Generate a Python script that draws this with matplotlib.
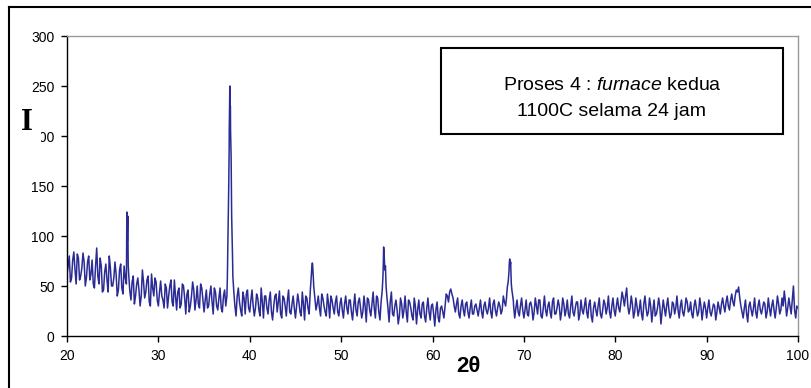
import numpy as np
import matplotlib
matplotlib.use("Agg")
import matplotlib.pyplot as plt
from matplotlib.patches import Rectangle
from matplotlib.lines import Line2D

plt.rcParams['font.family'] = ['Liberation Sans', 'DejaVu Sans']
plt.rcParams['mathtext.fontset'] = 'custom'
plt.rcParams['mathtext.rm'] = 'Liberation Sans'
plt.rcParams['mathtext.it'] = 'Liberation Sans:italic'

# background scan, 2theta = 20 .. 100 step 0.25
theta_start = 20.0
theta_step = 0.25
background = [
    62, 80, 58, 84, 52, 78, 60, 83, 50, 74, 56, 76, 48, 88, 52, 70, 46, 72, 44, 68,
    50, 74, 40, 66, 48, 70, 52, 62, 36, 60, 40, 58, 30, 66, 38, 56, 34, 62, 40, 54,
    30, 55, 36, 52, 28, 50, 34, 56, 26, 48, 32, 50, 22, 46, 30, 54, 26, 50, 28, 48,
    24, 46, 30, 50, 22, 44, 26, 48, 24, 46, 40, 190, 140, 45, 20, 48, 26, 44, 22, 46,
    24, 46, 20, 42, 26, 48, 18, 40, 22, 44, 16, 40, 24, 45, 18, 38, 20, 46, 22, 40,
    18, 42, 24, 44, 16, 38, 22, 62, 50, 26, 40, 20, 38, 24, 42, 18, 36, 22, 40, 20,
    38, 18, 40, 22, 36, 16, 42, 20, 38, 18, 40, 14, 36, 20, 44, 18, 38, 16, 46, 72,
    40, 14, 44, 20, 36, 12, 38, 18, 40, 14, 34, 20, 38, 12, 36, 18, 34, 14, 38, 16,
    32, 10, 34, 14, 30, 18, 42, 34, 47, 38, 24, 38, 18, 36, 20, 34, 18, 36, 22, 32,
    20, 36, 18, 34, 22, 38, 18, 36, 20, 34, 22, 40, 30, 52, 70, 42, 18, 36, 20, 38,
    18, 36, 20, 34, 16, 38, 22, 36, 18, 40, 20, 34, 18, 38, 22, 36, 16, 38, 20, 36,
    18, 40, 20, 34, 16, 36, 22, 38, 18, 36, 14, 34, 20, 38, 18, 36, 22, 40, 18, 38,
    20, 38, 24, 44, 30, 48, 22, 40, 18, 38, 20, 36, 16, 40, 20, 38, 14, 36, 22, 38,
    12, 36, 20, 38, 18, 34, 22, 40, 18, 36, 20, 38, 24, 34, 18, 36, 20, 38, 16, 34,
    18, 36, 20, 32, 16, 34, 22, 38, 24, 40, 26, 42, 30, 46, 49, 30, 18, 36, 14, 34,
    20, 38, 18, 36, 22, 34, 18, 38, 20, 36, 18, 40, 22, 38, 45, 20, 38, 22, 50, 18,
    28,
]

# in-between readings, 2theta = 20.125 .. 99.875 step 0.25
half_start = 20.125
background_half = [
    70, 54, 76, 66, 82, 56, 68, 74, 58, 80, 62, 52, 70, 60, 78, 44, 64, 56, 80, 50,
    58, 62, 46, 72, 42, 58, 110, 45, 54, 32, 52, 46, 40, 54, 44, 60, 30, 48, 58, 36,
    44, 40, 28, 48, 40, 56, 30, 40, 44, 28, 52, 38, 42, 24, 40, 46, 36, 32, 52, 36,
    36, 28, 42, 34, 48, 30, 38, 28, 40, 30, 100, 230, 75, 30, 40, 34, 20, 38, 42, 28,
    36, 30, 28, 38, 20, 34, 40, 28, 36, 24, 30, 42, 34, 22, 40, 30, 36, 24, 32, 28,
    30, 34, 20, 32, 40, 28, 45, 72, 38, 32, 28, 42, 30, 20, 32, 40, 28, 34, 24, 32,
    26, 32, 28, 36, 24, 30, 26, 34, 28, 24, 30, 38, 26, 32, 28, 40, 24, 34, 75, 62,
    28, 34, 22, 30, 26, 20, 32, 26, 24, 36, 28, 16, 30, 26, 22, 32, 20, 28, 24, 30,
    22, 26, 18, 28, 24, 30, 40, 44, 42, 30, 32, 22, 30, 26, 32, 24, 28, 22, 30, 26,
    28, 24, 30, 26, 28, 24, 32, 26, 28, 30, 26, 34, 42, 65, 52, 30, 28, 24, 30, 26,
    26, 22, 32, 28, 24, 30, 36, 20, 28, 26, 30, 24, 34, 22, 28, 30, 24, 32, 26, 22,
    30, 24, 28, 34, 22, 26, 30, 24, 32, 20, 28, 26, 30, 22, 26, 32, 28, 24, 30, 26,
    30, 28, 34, 38, 40, 30, 28, 32, 24, 30, 26, 22, 32, 28, 24, 30, 26, 20, 28, 30,
    24, 28, 30, 26, 22, 32, 28, 26, 30, 24, 28, 34, 26, 22, 30, 28, 24, 30, 26, 28,
    28, 24, 26, 30, 24, 28, 32, 30, 34, 30, 36, 34, 40, 44, 38, 24, 28, 22, 30, 26,
    28, 24, 30, 26, 28, 32, 24, 28, 30, 26, 28, 32, 26, 30, 34, 28, 30, 36, 26, 30,
]

# extra points on the diffraction peaks
peak_theta = [26.55, 26.6, 26.65, 26.7,
              37.55, 37.62, 37.7, 37.76, 37.82, 37.86, 37.9, 37.96, 38.02, 38.08, 38.15,
              46.6, 46.7, 46.8, 46.85, 46.9, 46.95, 47.05,
              54.58, 54.65, 54.7, 54.78, 54.85, 54.92,
              68.1, 68.2, 68.3, 68.4, 68.45, 68.55, 68.62, 68.7, 68.85]
peak_intensity = [124, 95, 120, 70,
                  58, 98, 150, 208, 250, 200, 205, 180, 120, 95, 60,
                  40, 55, 70, 73, 68, 60, 45,
                  60, 89, 84, 66, 70, 50,
                  38, 50, 56, 72, 77, 74, 55, 45, 35]

x_ticks = [20, 30, 40, 50, 60, 70, 80, 90, 100]
y_ticks = [0, 50, 100, 150, 200, 250, 300]

bg_theta = theta_start + theta_step * np.arange(len(background))
half_theta = half_start + theta_step * np.arange(len(background_half))
theta = np.concatenate([bg_theta, half_theta, peak_theta])
inten = np.concatenate([background, background_half, peak_intensity])
order = np.argsort(theta, kind="stable")
theta = theta[order]
inten = inten[order]

fig = plt.figure(figsize=(8.12, 3.88), dpi=100)
ax = fig.add_axes([67 / 812, 52 / 388, 731 / 812, 300 / 388])

ax.plot(theta, inten, color="#2B2B95", linewidth=1.1)

ax.set_xlim(20, 100)
ax.set_ylim(0, 300)
ax.set_xticks(x_ticks)
ax.set_yticks(y_ticks)
ax.tick_params(direction="out", length=4, width=1, labelsize=10, pad=5, color="black")
for side in ["left", "bottom"]:
    ax.spines[side].set_color("black")
    ax.spines[side].set_linewidth(1)
for side in ["top", "right"]:
    ax.spines[side].set_color("#999999")
    ax.spines[side].set_linewidth(1)

# axis labels placed like the original
fig.text(27 / 812, 1 - 122 / 388, "I", family="Liberation Serif", fontweight="bold",
         fontsize=22, ha="center", va="center", zorder=5,
         bbox=dict(facecolor="white", edgecolor="none", pad=6))
fig.text(468 / 812, 1 - 366 / 388, "2θ", fontweight="bold", fontsize=16,
         ha="center", va="center")

# annotation box
fig.patches.append(Rectangle((441 / 812, 1 - 134 / 388), 342 / 812, 86 / 388,
                             transform=fig.transFigure, facecolor="white",
                             edgecolor="black", linewidth=1.5))
fig.text(612 / 812, 1 - 86 / 388, r"Proses 4 : $\it{furnace}$ kedua", fontsize=14,
         ha="center", va="center")
fig.text(612 / 812, 1 - 111 / 388, "1100C selama 24 jam", fontsize=14,
         ha="center", va="center")

# outer frame
fig.add_artist(Line2D([9 / 812, 1.0], [1 - 7 / 388] * 2, transform=fig.transFigure,
                      color="black", linewidth=1.5))
fig.add_artist(Line2D([9 / 812] * 2, [0.0, 1 - 7 / 388], transform=fig.transFigure,
                      color="black", linewidth=1.5))

fig.savefig("out.png", dpi=100)
